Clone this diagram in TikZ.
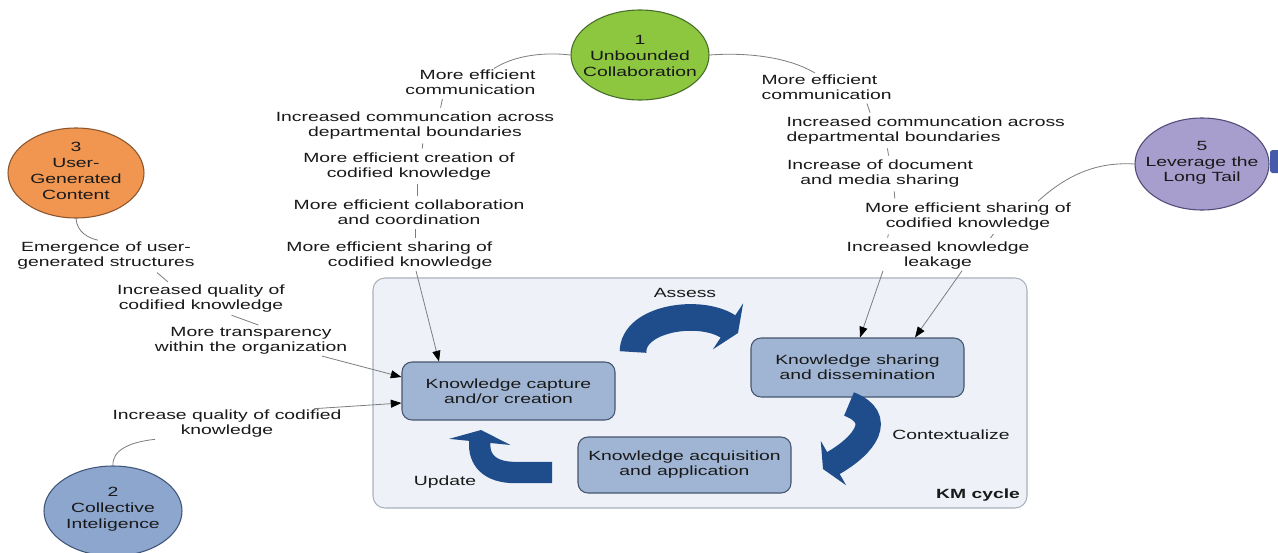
\documentclass[tikz,border=0pt]{standalone}
\usepackage{fontspec}
\setmainfont[FakeStretch=1.45]{Liberation Sans}
\usetikzlibrary{arrows.meta,shapes.geometric,calc}
\definecolor{gfill}{RGB}{141,198,63}
\definecolor{gdraw}{RGB}{70,110,40}
\definecolor{ofill}{RGB}{240,150,80}
\definecolor{odraw}{RGB}{140,85,45}
\definecolor{pfill}{RGB}{168,158,206}
\definecolor{pdraw}{RGB}{80,75,120}
\definecolor{bfill}{RGB}{140,166,206}
\definecolor{bdraw}{RGB}{65,85,120}
\definecolor{kmfill}{RGB}{238,242,248}
\definecolor{kmdraw}{RGB}{170,176,186}
\definecolor{boxfill}{RGB}{160,181,211}
\definecolor{boxdraw}{RGB}{70,85,110}
\definecolor{kmblue}{RGB}{31,77,139}
\definecolor{congray}{RGB}{125,125,125}
\definecolor{txt}{RGB}{25,25,25}
\definecolor{stubcol}{RGB}{70,90,170}
\begin{document}
\begin{tikzpicture}[x=0.75pt,y=-0.75pt,
  lbl/.style={font=\fontsize{10}{11.25}\selectfont, align=center, inner sep=1pt, text=txt},
  ctext/.style={font=\fontsize{10}{11.8}\selectfont, align=center, inner sep=0pt, text=txt},
  ell/.style={ellipse, inner sep=0pt, line width=0.8pt},
  kmframe/.style={draw=kmdraw, fill=kmfill, rounded corners=9pt, line width=0.8pt, inner sep=0pt},
  boxn/.style={draw=boxdraw, fill=boxfill, rounded corners=7.5pt, line width=0.8pt, minimum width=159.75pt, inner sep=0pt, align=center, text=txt, font=\fontsize{10}{11.25}\selectfont},
  con/.style={draw=congray, line width=0.6pt},
  tick/.style={con, shorten <=2pt, shorten >=2pt},
  arr/.style={con, -{Triangle[length=8pt,width=6pt,black]}},
  barrow/.style={draw=kmblue, line cap=butt}
]
\fill[white] (0,0) rectangle (1278,553);
\useasboundingbox (0,0) rectangle (1278,553);

% KM cycle frame and boxes
\node[kmframe, minimum width=490.5pt, minimum height=172.5pt] (km) at (700,393) {};
\node[boxn, minimum height=43.5pt] (cap) at (508.5,391) {Knowledge capture\\and/or creation};
\node[boxn, minimum height=44.25pt] (shr) at (857.5,367.5) {Knowledge sharing\\and dissemination};
\node[boxn, minimum height=42pt] (acq) at (684.5,465) {Knowledge acquisition\\and application};
\node[lbl] (assess) at (685,293) {Assess};
\node[lbl] (ctx) at (951,435) {Contextualize};
\node[lbl] (upd) at (445,482) {Update};
\node[lbl, font=\fontsize{10}{11.25}\selectfont\bfseries] (kmc) at (978,495) {KM cycle};

% block arrows
\draw[barrow, line width=20pt, -{Triangle[length=9pt,width=41pt]}] (633,352) .. controls (633,318) and (700,308) .. (738,333);
\draw[barrow, line width=19pt, -{Triangle[length=9pt,width=38pt]}] (849,404) .. controls (885,418) and (865,445) .. (823,469);
\draw[barrow, line width=16pt, -{Triangle[length=9pt,width=46pt]}] (552,472.5) -- (515,472.5) .. controls (490,472.5) and (478,460) .. (481,430);

% ellipses
\node[ell, fill=gfill, draw=gdraw, minimum width=103.5pt, minimum height=67.5pt] (c1) at (640,55) {};
\node[ctext] (c1t) at (640,56) {1\\Unbounded\\Collaboration};
\node[ell, fill=ofill, draw=odraw, minimum width=102pt, minimum height=67.5pt] (c3) at (76,173) {};
\node[ctext] (c3t) at (76,171) {3\\User-\\Generated\\Content};
\node[ell, fill=pfill, draw=pdraw, minimum width=100.5pt, minimum height=69pt] (c5) at (1202,164) {};
\node[ctext] (c5t) at (1202,163) {5\\Leverage the\\Long Tail};
\node[ell, fill=bfill, draw=bdraw, minimum width=103.5pt, minimum height=67.5pt] (c2) at (113,511) {};
\node[ctext] (c2t) at (113,509) {2\\Collective\\Inteligence};
\fill[stubcol, rounded corners=2pt] (1270,150) rectangle (1292,173);

% top-left chain
\node[lbl, align=right, anchor=east] (t1) at (537,82.5) {More efficient\\communication};
\node[lbl] (t2) at (415,125.5) {Increased communcation across\\departmental boundaries};
\node[lbl] (t3) at (409,166.5) {More efficient creation of\\codified knowledge};
\node[lbl] (t4) at (409,212.5) {More efficient collaboration\\and coordination};
\node[lbl, align=right, anchor=east] (t5) at (494,255.5) {More efficient sharing of\\codified knowledge};

% right chain
\node[lbl, align=left, anchor=west] (r1) at (760,87) {More efficient\\communication};
\node[lbl, align=left, anchor=west] (r2) at (785,130.5) {Increased communcation across\\departmental boundaries};
\node[lbl] (r3) at (880,173.5) {Increase of document\\and media sharing};
\node[lbl] (r4) at (968,216.5) {More efficient sharing of\\codified knowledge};
\node[lbl] (r5) at (938,255.5) {Increased knowledge\\leakage};

% lower-left chain
\node[lbl] (l1) at (106,255.5) {Emergence of user-\\generated structures};
\node[lbl] (l2) at (201,299) {Increased quality of\\codified knowledge};
\node[lbl] (l3) at (251,341) {More transparency\\within the organization};
\node[lbl] (l4) at (227,424) {Increase quality of codified\\knowledge};

% connectors: top-left
\draw[con] (c1.west) .. controls (545,52) and (515,55) .. (t1.north -| 494,0);
\draw[tick] (t1.south -| 443,0) -- (t2.north -| 440,0);
\draw[tick] (t2.south -| 423,0) -- (t3.north -| 422,0);
\draw[tick] (t3.south -| 417,0) -- (t4.north -| 417,0);
\draw[tick] (t4.south -| 415,0) -- (t5.north -| 415,0);
\draw[arr] (t5.south -| 416,0) -- (cap.north -| 439,0);

% connectors: right
\draw[con] (c1.east) .. controls (750,52) and (790,58) .. (r1.north -| 815,0);
\draw[tick] (r1.south -| 866,0) -- (r2.north -| 871,0);
\draw[tick] (r2.south -| 887,0) -- (r3.north -| 889,0);
\draw[tick] (r3.south -| 894,0) -- (r4.north -| 895,0);
\draw[con] (c5.west) .. controls (1100,162) and (1070,172) .. (r4.north -| 1038,0);
\draw[tick] (r4.south -| 889,0) -- (r5.north -| 887,0);
\draw[tick] (r4.south -| 995,0) -- (r5.north -| 989,0);
\draw[arr] (r5.south -| 883,0) -- (shr.north -| 860,0);
\draw[arr] (r5.south -| 962,0) -- (shr.north -| 915,0);

% connectors: lower-left
\draw[con] (c3.south) .. controls (77,232) and (88,238) .. (l1.north -| 98,0);
\draw[tick] (l1.south -| 155,0) -- (l2.north -| 170,0);
\draw[tick] (l2.south -| 229,0) -- (l3.north -| 261,0);
\draw[arr] (l3.south -| 322,0) -- (cap.west |- 0,377);
\draw[arr] (l4.north -| 314,0) -- (cap.west |- 0,403);
\draw[con] (c2.north) .. controls (112,450) and (130,442) .. (l4.south -| 155,0);
\end{tikzpicture}
\end{document}
